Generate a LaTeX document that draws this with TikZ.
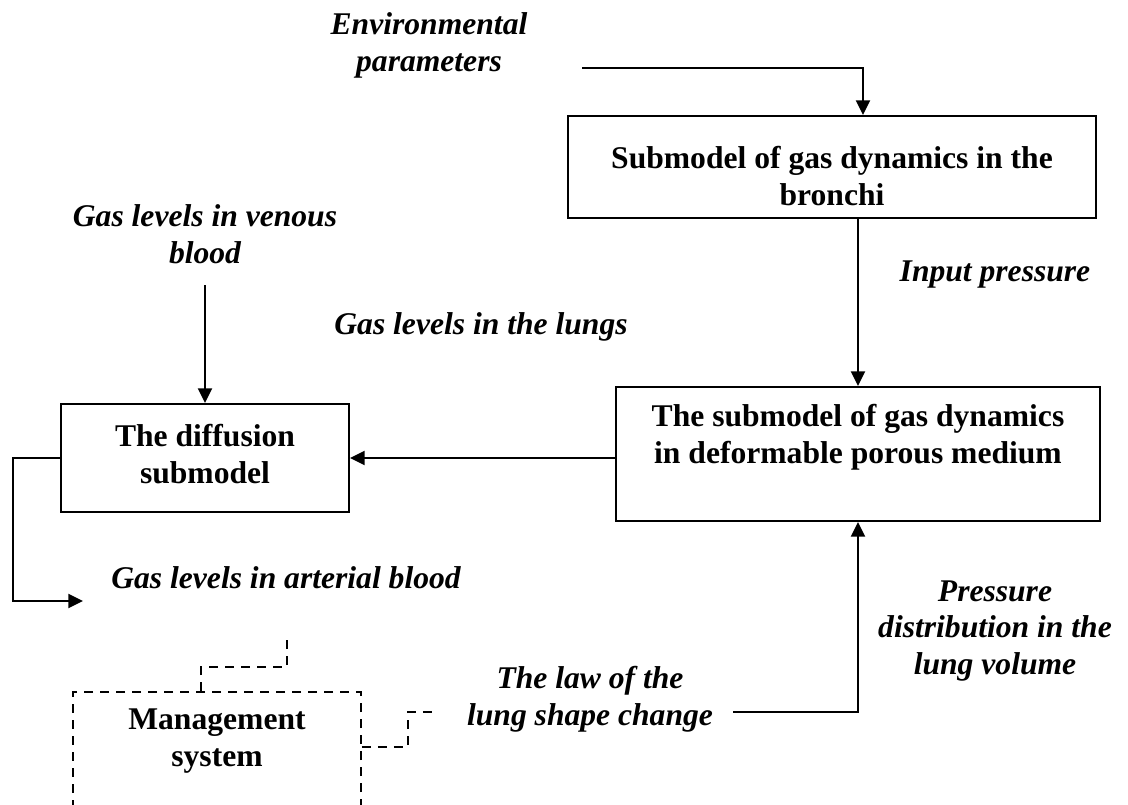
\documentclass[tikz,border=0pt]{standalone}
\usepackage{fontspec}
\setmainfont{Liberation Serif}
\usetikzlibrary{arrows.meta,calc}
\tikzset{
  x=0.75pt, y=-0.75pt,
  ln/.style={line width=1.6pt},
  arr/.style={ln, -{Triangle[length=11pt,width=10.5pt]}},
  dsh/.style={line width=1.4pt, dash pattern=on 7pt off 5pt},
  boxnode/.style={draw, ln, inner sep=0pt},
  dboxnode/.style={draw, dsh, inner sep=0pt},
  lab/.style={font=\fontsize{23.7pt}{27.7pt}\selectfont\bfseries\itshape, align=center, inner sep=0pt},
  btxt/.style={font=\fontsize{23.7pt}{27.7pt}\selectfont\bfseries, align=center, inner sep=0pt}
}
\begin{document}
\begin{tikzpicture}
\useasboundingbox (0,0) rectangle (1128,804);
\clip (0,0) rectangle (1128,804);
\fill[white] (0,0) rectangle (1128,804);

% boxes
\node[boxnode, minimum width=396pt, minimum height=76.5pt] (bronchi) at (832,167) {};
\node[boxnode, minimum width=363pt, minimum height=100.5pt] (porous) at (858,454) {};
\node[boxnode, minimum width=216pt, minimum height=81pt] (diffusion) at (205,458) {};
\node[dboxnode, minimum width=216pt, minimum height=111pt] (mgmt) at (217,766) {};

% box texts
\node[btxt] (tbronchi) at (832,176) {Submodel of gas dynamics in the\\bronchi};
\node[btxt] (tporous) at (858,437) {The submodel of gas dynamics\\in deformable porous medium};
\node[btxt] (tdiff) at (205,454) {The diffusion\\submodel};
\node[btxt] (tmgmt) at (217,741) {Management\\system};

% labels
\node[lab] (env) at (429,45) {Environmental\\parameters};
\node[lab] (venous) at (205,234) {Gas levels in venous\\blood};
\node[lab] (lungs) at (481,327) {Gas levels in the lungs};
\node[lab] (input) at (995,275) {Input pressure};
\node[lab] (arterial) at (286,578) {Gas levels in arterial blood};
\node[lab] (law) at (590,699) {The law of the\\lung shape change};
\node[lab] (pdist) at (995,631) {Pressure\\distribution in the\\lung volume};

% coordinates for free ends
\coordinate (envout) at (582,68);
\coordinate (envcorner) at (863,68);
\coordinate (venin) at (205,285);
\coordinate (exitcorner) at (13,601);
\coordinate (artend) at (83,601);
\coordinate (lawout) at (733,712);
\coordinate (mup) at (287,640);
\coordinate (mright) at (437,712);

% connectors
\draw[arr] (envout) -- (envcorner) -- (envcorner |- bronchi.north);
\draw[arr] (bronchi.south -| porous.north) -- (porous.north);
\draw[arr] (porous.west |- diffusion.east) -- (diffusion.east);
\draw[arr] (venin) -- (venin |- diffusion.north);
\draw[arr] (diffusion.west) -| (exitcorner) -- (artend);
\draw[arr] (lawout) -| (porous.south);

% dashed connectors
\draw[dsh] ($(mgmt.north west)+(129,0)$) -- ++(0,-24) -| (mup);
\draw[dsh] ($(mgmt.north east)+(0,56)$) -- ++(46,0) |- (mright);
\end{tikzpicture}
\end{document}
